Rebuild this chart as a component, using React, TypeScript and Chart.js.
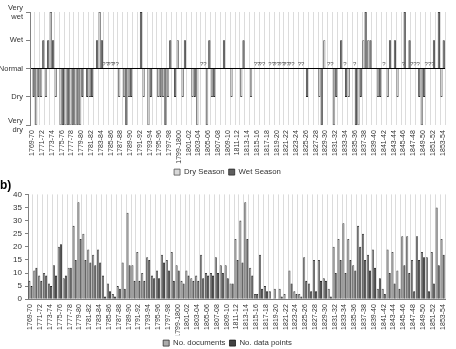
import React, { useEffect, useRef } from 'react';
import { Chart, registerables } from 'chart.js';
Chart.register(...registerables);

const FONT = 'Liberation Sans, Arial, sans-serif';

const categories = [
  '1769-70','1770-71','1771-72','1772-73','1773-74','1774-75','1775-76','1776-77','1777-78','1778-79',
  '1779-80','1780-81','1781-82','1782-83','1783-84','1784-85','1785-86','1786-87','1787-88','1788-89',
  '1789-90','1790-91','1791-92','1792-93','1793-94','1794-95','1795-96','1796-97','1797-98','1798-99',
  '1799-1800','1800-01','1801-02','1802-03','1803-04','1804-05','1805-06','1806-07','1807-08','1808-09',
  '1809-10','1810-11','1811-12','1812-13','1813-14','1814-15','1815-16','1816-17','1817-18','1818-19',
  '1819-20','1820-21','1821-22','1822-23','1823-24','1824-25','1825-26','1826-27','1827-28','1828-29',
  '1829-30','1830-31','1831-32','1832-33','1833-34','1834-35','1835-36','1836-37','1837-38','1838-39',
  '1839-40','1840-41','1841-42','1842-43','1843-44','1844-45','1845-46','1846-47','1847-48','1848-49',
  '1849-50','1850-51','1851-52','1852-53','1853-54'
];

// Panel a: season classification (-2 very dry ... 2 very wet), null = unknown
const drySeason = [
  0,-2,-1,-1,2,-1,-2,-2,-2,-2,
  -2,0,-1,0,2,null,null,null,-1,-1,
  -1,0,0,-1,-2,0,-1,-1,-1,0,
  1,-1,0,-1,-2,null,-2,-1,0,0,
  0,-1,0,-1,0,-1,null,null,0,null,
  null,null,null,null,0,null,0,0,0,-1,
  1,null,-2,0,null,-1,null,-2,1,1,
  0,-1,null,-1,0,-1,null,0,null,null,
  -2,null,null,0,-1
];
const wetSeason = [
  -1,-1,1,1,1,0,-2,-2,-2,-2,
  -1,-1,-1,1,1,null,null,null,0,-2,
  -1,0,2,0,-1,0,-1,-2,1,-1,
  0,1,0,-1,0,null,1,-1,0,1,
  0,0,0,1,0,0,null,null,0,null,
  null,null,null,null,0,null,-1,0,0,-2,
  0,null,-1,1,-1,0,-2,-1,2,1,
  0,-1,0,1,1,0,2,1,null,-1,
  -1,null,1,2,1
];
const unknownIdx = [15,16,17,35,46,47,49,50,51,52,53,55,61,64,66,72,76,78,79,81,82];
const unknownTxt = ['??','??','??','??','??','??','??','??','??','??','??','??','??','?','?','?','?','??','?','??','?'];

const levelValues = [-2,-1,0,1,2];
const levelLabels = [['Very','dry'],'Dry','Normal','Wet',['Very','wet']];

// Panel b
const noDocuments = [
  7,11,9,10,6,13,20,8,12,28,
  37,25,19,17,19,9,6,2,5,14,
  33,13,18,10,16,9,11,17,15,18,
  13,7,11,8,9,17,10,10,16,13,
  13,6,23,30,37,12,2,17,5,3,
  4,4,2,11,3,2,16,6,15,15,
  8,4,20,23,29,23,13,28,25,17,
  19,4,4,19,18,11,24,24,15,24,
  18,16,18,35,23
];
const noDataPoints = [
  5,12,7,9,5,9,21,9,12,15,
  23,15,14,13,14,1,3,1,4,4,
  13,7,7,7,15,8,8,14,11,7,
  11,6,9,7,7,8,9,9,10,10,
  8,6,15,14,23,9,2,4,3,0,
  0,1,0,6,2,1,7,3,3,7,
  7,1,10,15,10,15,11,20,15,11,
  12,8,2,10,6,4,13,10,3,15,
  16,3,6,13,17
];

const xTicks = (v: any, i: number) => (i % 2 === 0 ? categories[i] : '');

const unknownPlugin = {
  id: 'unknownMarks',
  afterDatasetsDraw(chart: any) {
    const ctx = chart.ctx;
    const xs = chart.scales.x;
    const ys = chart.scales.y;
    ctx.save();
    ctx.font = `6px ${FONT}`;
    ctx.fillStyle = '#555';
    ctx.textAlign = 'center';
    ctx.textBaseline = 'bottom';
    unknownIdx.forEach((idx, k) => {
      ctx.fillText(unknownTxt[k], xs.getPixelForValue(idx), ys.getPixelForValue(0) - 1);
    });
    ctx.restore();
  }
};

function PanelA() {
  const ref = useRef<HTMLCanvasElement>(null);
  useEffect(() => {
    const chart = new Chart(ref.current!, {
      type: 'bar',
      data: {
        labels: categories,
        datasets: [
          { label: 'Dry Season', data: drySeason as any, backgroundColor: '#d8d8d8', borderColor: '#505050', borderWidth: 0.8, categoryPercentage: 0.92, barPercentage: 1 },
          { label: 'Wet Season', data: wetSeason as any, backgroundColor: '#5e5e5e', borderColor: '#262626', borderWidth: 0.8, categoryPercentage: 0.92, barPercentage: 1 }
        ]
      },
      options: {
        responsive: false,
        animation: false,
        layout: { padding: { top: 12, right: 1, left: 0, bottom: 2 } },
        plugins: {
          legend: { position: 'bottom', labels: { boxWidth: 6, boxHeight: 6, padding: 4, color: '#333', font: { size: 7.8, family: FONT } } },
          tooltip: { enabled: false }
        },
        scales: {
          x: {
            grid: { offset: true, color: '#dcdcdc', drawTicks: false },
            border: { display: false },
            ticks: { autoSkip: false, minRotation: 90, maxRotation: 90, padding: 5, color: '#333', font: { size: 7, family: FONT }, callback: xTicks },
            afterFit: (s: any) => { s.height = 39; }
          },
          y: {
            min: -2, max: 2,
            afterBuildTicks: (s: any) => { s.ticks = levelValues.map(v => ({ value: v })); },
            ticks: {
              color: '#333', font: { size: 7.5, family: FONT }, padding: 3,
              callback: (v: any) => levelLabels[levelValues.indexOf(Number(v))]
            },
            grid: { color: (c: any) => (c.tick && c.tick.value === 0 ? '#000' : 'rgba(0,0,0,0)'), tickColor: '#808080', tickLength: 4 },
            border: { color: '#808080' },
            afterFit: (s: any) => { s.width = 30; }
          }
        }
      },
      plugins: [unknownPlugin]
    } as any);
    return () => chart.destroy();
  }, []);
  return <canvas ref={ref} width={456} height={188} style={{ position: 'absolute', left: 0, top: 0, width: 456, height: 188 }} />;
}

function PanelB() {
  const ref = useRef<HTMLCanvasElement>(null);
  useEffect(() => {
    const chart = new Chart(ref.current!, {
      type: 'bar',
      data: {
        labels: categories,
        datasets: [
          { label: 'No. documents', data: noDocuments, backgroundColor: '#ababab', borderColor: '#303030', borderWidth: 0.8, categoryPercentage: 0.85, barPercentage: 1 },
          { label: 'No. data points', data: noDataPoints, backgroundColor: '#424242', borderColor: '#1a1a1a', borderWidth: 0.8, categoryPercentage: 0.85, barPercentage: 1 }
        ]
      },
      options: {
        responsive: false,
        animation: false,
        layout: { padding: { top: 0, right: 1, left: 0, bottom: 2 } },
        plugins: {
          title: { display: true, text: 'b)', align: 'start', color: '#000', font: { size: 12, weight: 'bold', family: FONT }, padding: { top: 2, bottom: 2 } },
          legend: { position: 'bottom', labels: { boxWidth: 6, boxHeight: 6, padding: 4, color: '#333', font: { size: 7.8, family: FONT } } },
          tooltip: { enabled: false }
        },
        scales: {
          x: {
            grid: { offset: true, color: '#dcdcdc', drawTicks: false },
            border: { display: true, color: '#808080' },
            ticks: { autoSkip: false, minRotation: 90, maxRotation: 90, padding: 5, color: '#333', font: { size: 7, family: FONT }, callback: xTicks },
            afterFit: (s: any) => { s.height = 36; }
          },
          y: {
            min: 0, max: 40,
            ticks: { stepSize: 5, color: '#333', font: { size: 8, family: FONT }, padding: 3 },
            grid: { drawOnChartArea: false, tickColor: '#808080', tickLength: 3 },
            border: { color: '#808080' },
            afterFit: (s: any) => { s.width = 28; }
          }
        }
      }
    } as any);
    return () => chart.destroy();
  }, []);
  return <canvas ref={ref} width={456} height={183} style={{ position: 'absolute', left: 0, top: 176, width: 456, height: 183 }} />;
}

export default function App() {
  return (
    <div style={{ position: 'fixed', left: 0, top: 0, width: 456, height: 349, overflow: 'hidden', background: '#fff' }}>
      <PanelA />
      <PanelB />
    </div>
  );
}
